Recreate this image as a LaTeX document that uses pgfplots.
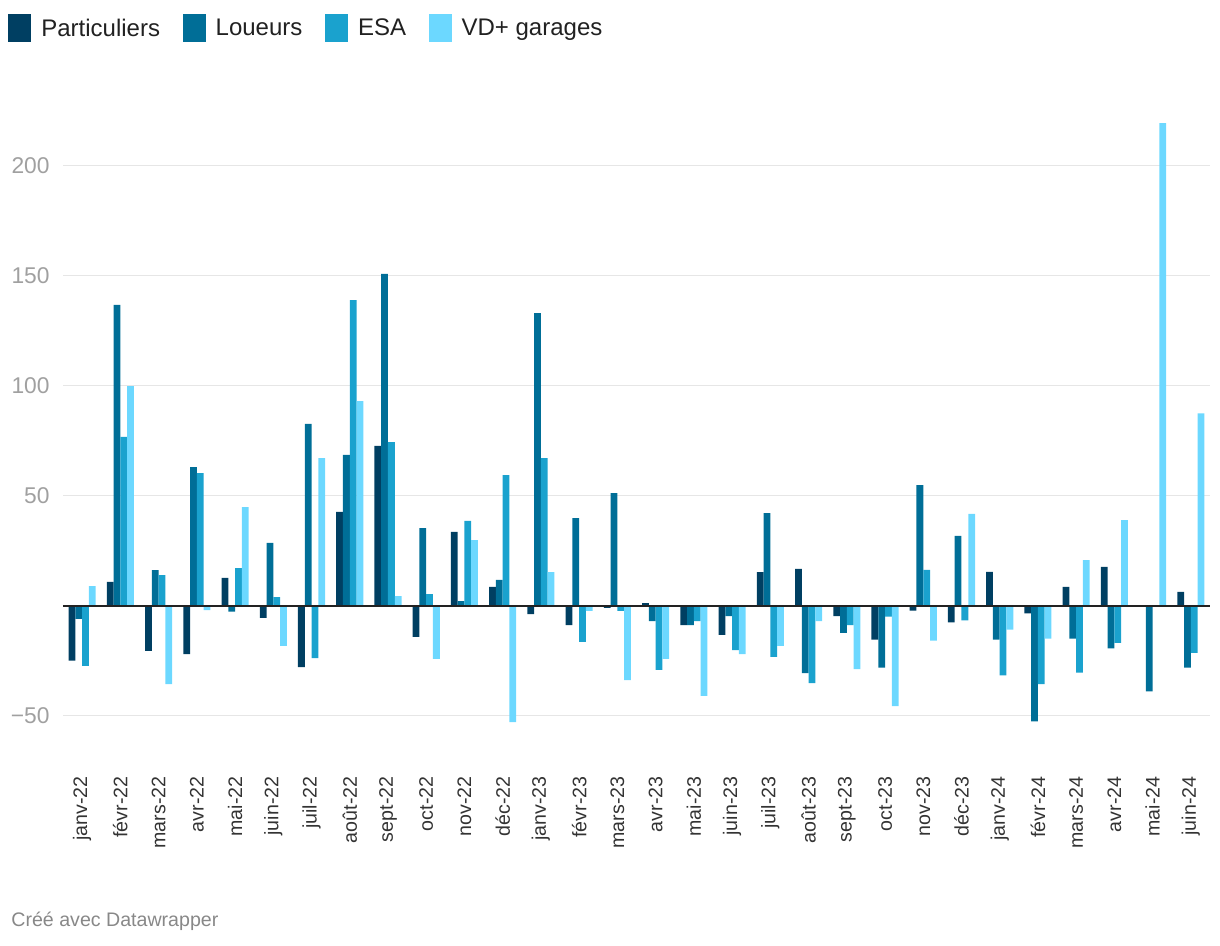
\documentclass[border=0pt]{standalone}
\usepackage{fontspec}
\setmainfont{Liberation Sans}
\usepackage{pgfplots}
\usepackage{pgfplotstable}
\pgfplotsset{compat=1.18}
\definecolor{cP}{HTML}{003F62}
\definecolor{cL}{HTML}{006E97}
\definecolor{cE}{HTML}{1AA2CE}
\definecolor{cV}{HTML}{6CD8FF}
\definecolor{gridc}{HTML}{E6E6E6}
\definecolor{ylabc}{HTML}{A0A0A0}
\definecolor{xlabc}{HTML}{333333}
\definecolor{credc}{HTML}{888888}
\definecolor{zeroc}{HTML}{222222}

\pgfplotstableread{
x P L E V
0 -25 -6 -27.4 8.9
1 10.8 136.7 76.7 99.8
2 -20.5 16.2 13.9 -35.6
3 -22 63 60.3 -2
4 12.6 -2.7 17.1 44.8
5 -5.5 28.5 3.9 -18.3
6 -27.9 82.6 -23.8 67.1
7 42.6 68.5 138.9 93
8 72.6 150.8 74.4 4.4
9 -14.2 35.3 5.3 -24.2
10 33.5 2.1 38.5 29.8
11 8.5 11.7 59.4 -52.9
12 -3.8 133 67.1 15.3
13 -8.8 39.8 -16.5 -2.4
14 -1 51.2 -2.4 -33.8
15 1.2 -7 -29.2 -24.2
16 -8.8 -8.8 -7 -41
17 -13.3 -4.7 -20.2 -22
18 15.3 42.1 -23.3 -18.3
19 16.7 -30.6 -35.2 -7
20 -4.7 -12.4 -8.8 -28.8
21 -15.4 -28.1 -5 -45.6
22 -2.2 54.8 16.3 -15.9
23 -7.6 31.7 -6.7 41.7
24 15.4 -15.4 -31.7 -10.9
25 -3.5 -52.6 -35.7 -15
26 8.5 -15 -30.4 20.7
27 17.6 -19.4 -16.9 38.9
28 0 -38.9 0 219.4
29 6.3 -28.1 -21.5 87.4
}\datatable

\begin{document}
\begin{tikzpicture}[x=1pt,y=1pt]
\path[use as bounding box] (0,0) rectangle (610,473);
\begin{axis}[
  at={(31.5pt,104.15pt)}, anchor=south west,
  scale only axis, width=573.5pt, height=310.2pt,
  xmin=-0.5, xmax=29.5, ymin=-60, ymax=222,
  enlargelimits=false,
  axis line style={draw=none},
  tick style={draw=none},
  ybar=0pt, bar width=0.177,
  xtick={0,...,29},
  xticklabels={janv-22,févr-22,mars-22,avr-22,mai-22,juin-22,juil-22,août-22,sept-22,oct-22,nov-22,déc-22,janv-23,févr-23,mars-23,avr-23,mai-23,juin-23,juil-23,août-23,sept-23,oct-23,nov-23,déc-23,janv-24,févr-24,mars-24,avr-24,mai-24,juin-24},
  xticklabel style={rotate=90, anchor=east, inner sep=0pt, font=\fontsize{9.8}{11}\selectfont, text=xlabc},
  xticklabel shift=15pt,
  ytick={-50,50,100,150,200},
  yticklabels={−50,50,100,150,200},
  yticklabel style={anchor=east, inner sep=0pt, xshift=-6.5pt, font=\fontsize{11.4}{13}\selectfont, text=ylabc},
  ymajorgrids,
  grid style={color=gridc, line width=0.7pt},
  legend columns=4,
  legend style={at={(-0.0476,1.1665)}, anchor=north west, draw=none, fill=none,
    inner sep=0pt, outer sep=0pt,
    font=\fontsize{12}{14}\selectfont, text=black!87,
    /tikz/every odd column/.append style={column sep=3pt},
    /tikz/every even column/.append style={column sep=9.3pt}},
  every axis plot/.append style={draw=none,
    legend image code/.code={\fill[##1] (0pt,-6.5pt) rectangle (11.5pt,7.5pt);}},
]
\addplot[fill=cP] table[x=x,y=P] {\datatable};
\addplot[fill=cL] table[x=x,y=L] {\datatable};
\addplot[fill=cE] table[x=x,y=E] {\datatable};
\addplot[fill=cV] table[x=x,y=V] {\datatable};
\legend{Particuliers,Loueurs,ESA,VD+ garages}
\draw[color=zeroc, line width=0.9pt] (axis cs:-0.5,0) -- (axis cs:29.5,0);
\end{axis}
\node[anchor=base west, inner sep=0pt, font=\fontsize{9.8}{12}\selectfont, text=credc] at (5.5,9.65) {Créé avec Datawrapper};
\end{tikzpicture}
\end{document}
